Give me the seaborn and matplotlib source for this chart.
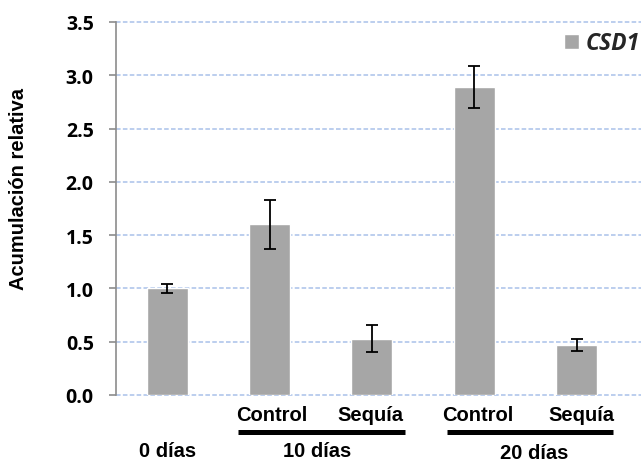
import matplotlib
matplotlib.use("Agg")
import matplotlib.pyplot as plt
import seaborn as sns
import numpy as np

# ---- data ----
categories = ["0 días", "10 días Control", "10 días Sequía", "20 días Control", "20 días Sequía"]
values = [1.00, 1.60, 0.53, 2.89, 0.47]
errors = [0.04, 0.23, 0.13, 0.20, 0.055]
sub_labels = ["Control", "Sequía", "Control", "Sequía"]
group_labels = ["0 días", "10 días", "20 días"]
yticks = [0.0, 0.5, 1.0, 1.5, 2.0, 2.5, 3.0, 3.5]
series_name = "CSD1"
ylabel = "Acumulación relativa"

sns.set_theme(style="white")
plt.rcParams["font.family"] = ["Liberation Sans", "DejaVu Sans"]

W, H = 641, 464
fig = plt.figure(figsize=(W / 100, H / 100), dpi=100)
ax = fig.add_axes([116 / W, (H - 396) / H, (W - 116) / W, 373 / H])

sns.barplot(x=categories, y=values, color="#A6A6A6", saturation=1, width=0.4,
            ax=ax, label=series_name, zorder=2)
ax.errorbar(np.arange(len(values)), values, yerr=errors, fmt="none", ecolor="black",
            elinewidth=1.3, capsize=4, capthick=1.3, zorder=3)

ax.set_xlim(-0.5, 4.63)
ax.set_ylim(0, 3.5)
ax.set_yticks(yticks)
ax.set_yticklabels([f"{t:.1f}" for t in yticks], fontfamily="Open Sans", fontweight="bold",
                   fontsize=14, color="black")
ax.tick_params(axis="y", direction="out", length=5, width=1.2, color="#8C8C8C", pad=11, left=True)
ax.tick_params(axis="x", bottom=False, labelbottom=False)
ax.set_xlabel("")
ax.set_ylabel("")

for t in yticks:
    ax.axhline(t, color="#A9C1EA", lw=1.1, linestyle=(0, (3, 1.5)), zorder=0.5, clip_on=False)

for s in ["top", "right", "bottom"]:
    ax.spines[s].set_visible(False)
ax.spines["left"].set_color("#8C8C8C")
ax.spines["left"].set_linewidth(1.2)
ax.spines["left"].set_zorder(4)

trans = ax.get_xaxis_transform()
# sub labels under bars 2-5
sub_x = [1.02, 1.99, 3.03, 4.05]
for xx, lab in zip(sub_x, sub_labels):
    ax.text(xx, -0.0536, lab, transform=trans, ha="center", va="center",
            fontsize=14.5, fontweight="bold", color="black", clip_on=False)
# group lines
for x0, x1 in [(0.695, 2.32), (2.73, 4.36)]:
    ax.plot([x0, x1], [-0.1005, -0.1005], transform=trans, color="black", lw=3.6,
            solid_capstyle="butt", clip_on=False)
# group labels
for xx, yy, lab in zip([0.0, 1.47, 3.59], [-0.1475, -0.1475, -0.153], group_labels):
    ax.text(xx, yy, lab, transform=trans, ha="center", va="center",
            fontsize=14.5, fontweight="bold", color="black", clip_on=False)

fig.text(19 / W, 1 - 189.5 / H, ylabel, rotation=90, ha="center", va="center",
         fontsize=14.5, fontweight="bold", color="black")

leg = ax.legend(loc="center left", bbox_to_anchor=(564 / W, 1 - 44.5 / H),
                bbox_transform=fig.transFigure, frameon=False, borderpad=0,
                borderaxespad=0, handlelength=0.66, handleheight=0.66,
                handletextpad=0.3,
                prop={"family": "Open Sans", "weight": "bold", "style": "italic", "size": 16.5})

fig.savefig("out.png", dpi=100, facecolor="white")
